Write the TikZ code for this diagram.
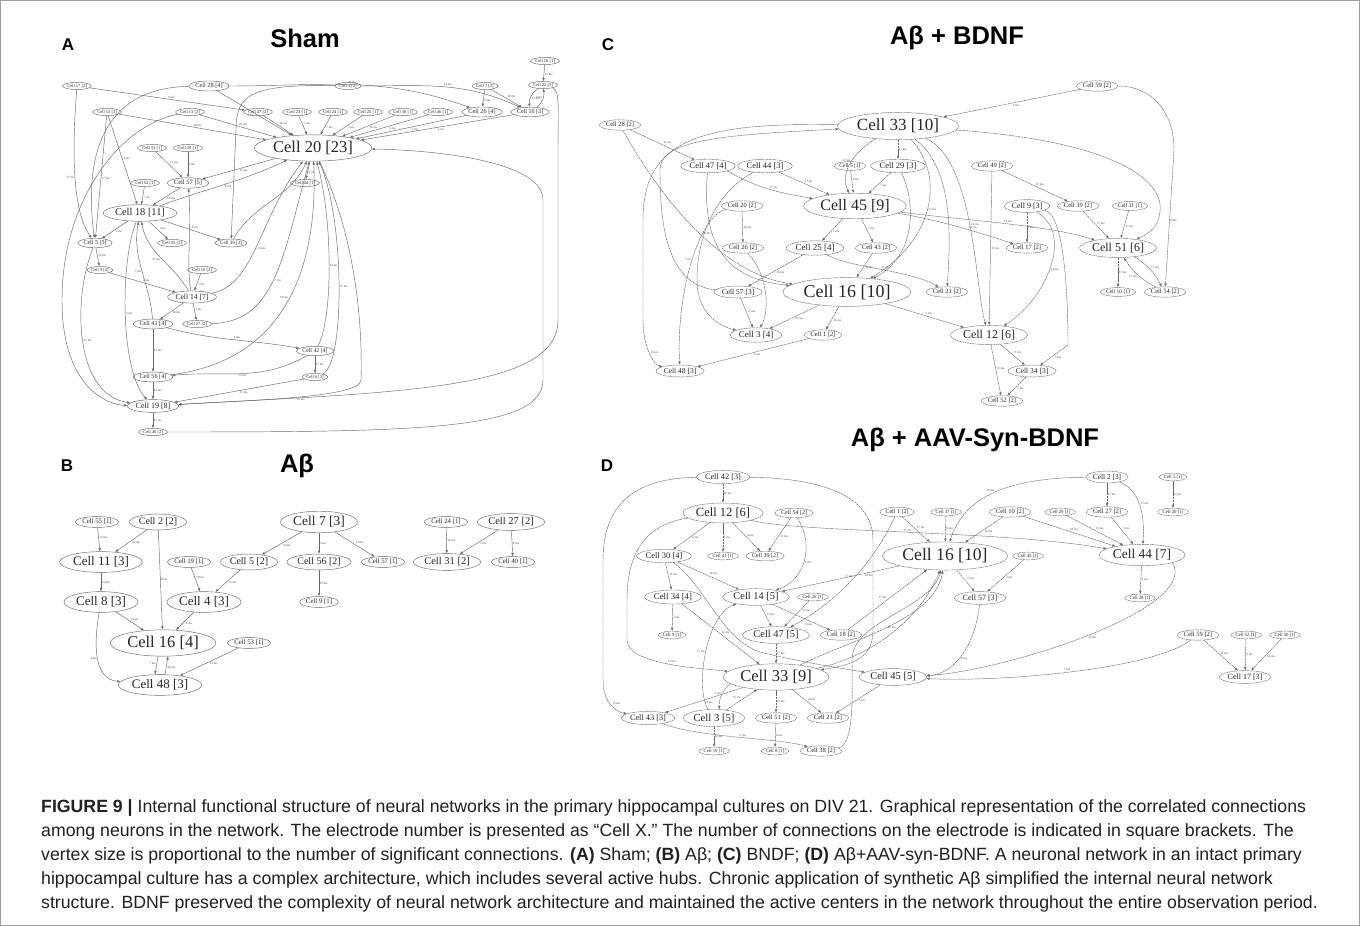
\documentclass[tikz,border=0pt]{standalone}
\usepackage{fontspec}
\setmainfont{Liberation Sans}
\newfontfamily\cellfont{Liberation Serif}
\usetikzlibrary{arrows.meta, shapes.geometric}
\definecolor{edgegray}{RGB}{105,105,105}
\definecolor{framegray}{RGB}{160,160,160}
\definecolor{captext}{RGB}{35,31,32}
\tikzset{
  cell/.style={ellipse, draw=edgegray, line width=.45pt, text=black!85,
    inner xsep={0.1*#1pt}, inner ysep={0.15*#1pt},
    font=\cellfont\fontsize{#1}{#1}\selectfont},
  cellx/.style={cell=#1, dash pattern=on 2pt off .6pt},
  link/.style={draw=edgegray, line width=.45pt, -{Latex[length=3.2pt,width=2.6pt]}},
  linkx/.style={link, dash pattern=on 2.5pt off .6pt},
  ms/.style={font=\cellfont\fontsize{3.2}{3.5}\selectfont, text=black!70, auto, inner sep=.6pt},
  panel/.style={font=\bfseries\fontsize{17}{17}\selectfont},
  heading/.style={font=\bfseries\fontsize{25.5}{26}\selectfont},
  capnode/.style={align=left, font=\fontsize{17.7}{24}\selectfont, text=captext, inner sep=0pt},
}

\begin{document}
\begin{tikzpicture}[x=1pt, y=1pt]
\useasboundingbox (0,0) rectangle (1360,-926);
% outer frame
\fill[white] (0,0) rectangle (1360,-926);
\draw[framegray] (0.5,-0.5) rectangle (1359.5,-925.5);

% ---- panel A: Sham ----
\node[panel] (lA) at (68,-45) {A};
\node[heading] (tA) at (305,-38) {Sham};
\node[cell=4.5] (a16) at (545,-61) {Cell 16 [1]};
\node[cell=4.5] (a22) at (543,-85) {Cell 22 [3]};
\node[cell=4.5] (a17) at (77,-86) {Cell 17 [2]};
\node[cell=6.3] (a28) at (209,-86) {Cell 28 [4]};
\node[cell=4.5] (a4) at (348,-86) {Cell 4 [2]};
\node[cell=4.5] (a7) at (485,-86) {Cell 7 [2]};
\node[cell=4.5] (a53) at (107,-112) {Cell 53 [3]};
\node[cell=4.5] (a13) at (190,-112) {Cell 13 [2]};
\node[cell=4.5] (a47) at (258,-112) {Cell 47 [2]};
\node[cell=4.5] (a23) at (297,-112) {Cell 23 [1]};
\node[cell=4.5] (a24) at (333,-112) {Cell 24 [1]};
\node[cell=4.5] (a25) at (368,-112) {Cell 25 [1]};
\node[cell=4.5] (a30) at (403,-112) {Cell 30 [1]};
\node[cell=4.5] (a46) at (438,-112) {Cell 46 [1]};
\node[cell=6.3] (a26) at (482,-112) {Cell 26 [4]};
\node[cell=6] (a10) at (530,-112) {Cell 10 [3]};
\node[cell=16.5] (a20) at (313,-148) {Cell 20 [23]};
\node[cell=4.5] (a31) at (152,-148) {Cell 31 [1]};
\node[cell=4.5] (a29) at (188,-148) {Cell 29 [1]};
\node[cell=6.5] (a57) at (188,-183) {Cell 57 [5]};
\node[cell=4.5] (a52) at (145,-183) {Cell 52 [1]};
\node[cell=4.5] (a44) at (305,-183) {Cell 44 [1]};
\node[cell=10.4] (a18) at (140,-213) {Cell 18 [11]};
\node[cell=6] (a5) at (95,-243) {Cell 5 [5]};
\node[cell=4.5] (a35) at (172,-243) {Cell 35 [2]};
\node[cell=5] (a39) at (231,-243) {Cell 39 [3]};
\node[cell=4.5] (a9) at (100,-270) {Cell 9 [2]};
\node[cell=4.5] (a16b) at (202,-270) {Cell 16 [2]};
\node[cell=7.6] (a14) at (192,-297) {Cell 14 [7]};
\node[cell=6.2] (a41) at (153,-324) {Cell 41 [4]};
\node[cell=4.5] (a27) at (197,-324) {Cell 27 [2]};
\node[cell=5.8] (a42) at (315,-351) {Cell 42 [4]};
\node[cell=6.2] (a56) at (153,-377) {Cell 56 [4]};
\node[cell=4.5] (a6) at (315,-377) {Cell 6 [3]};
\node[cell=8] (a19) at (153,-406) {Cell 19 [8]};
\node[cell=4.5] (a40) at (153,-432) {Cell 40 [2]};

\foreach \src/\dst/\lbl in {a16/a22/12, a7/a26/5, a7/a10/10, a17/a47/0,
    a53/a20/40, a13/a20/25, a47/a20/10, a23/a20/5, a24/a20/7, a25/a20/2, a30/a20/16,
    a46/a20/5, a26/a20/2, a10/a20/2, a31/a57/17, a29/a57/3, a57/a18/14, a52/a18/7,
    a20/a57/27, a20/a44/5, a53/a18/4, a53/a5/17, a18/a5/1, a18/a35/1, a18/a39/8,
    a16b/a14/1, a9/a14/0, a5/a9/20, a14/a41/10, a14/a27/7, a41/a56/13,
    a42/a6/27, a56/a19/23, a6/a19/35, a19/a40/17}
  \draw[link] (\src) -- node[ms]{\lbl~ms} (\dst);
\draw[link] (a28) -- node[ms,swap]{1~ms} (a20);
\draw[link] (a22) to[bend right=30] node[ms]{12~ms} (a10);
\draw[link] (a10) to[bend right=30] node[ms]{3~ms} (a22);
\draw[link] (a28) to[out=0,in=160] node[ms]{20~ms} (a26);
\draw[link] (a4) to[out=0,in=155] node[ms]{14~ms} (a10);
\draw[link] (a28) .. controls (100,-88) and (84,-160) .. (a5);
\draw[link] (a17) .. controls (72,-150) and (72,-210) .. node[ms,swap]{27~ms} (a5);
\draw[link] (a13) .. controls (120,-125) and (62,-200) .. (62,-300)
  .. controls (62,-390) and (110,-405) .. (a19);
\draw[link] (a5) .. controls (72,-300) and (75,-395) .. node[ms]{13~ms} (a19);
\draw[link] (a18) .. controls (120,-260) and (120,-370) .. node[ms]{5~ms} (a19);
\draw[link] (a18) to[out=20,in=205] node[ms,swap]{8~ms} (a20);
\draw[link] (a14) to[out=120,in=-80] node[ms]{27~ms} (a18);
\draw[link] (a41) to[out=95,in=-100] node[ms]{7~ms} (a18);
\draw[link] (a14) .. controls (186,-265) and (192,-230) .. (a57);
\draw[link] (a14) .. controls (255,-285) and (258,-220) .. node[ms,swap]{23~ms} (a20);
\draw[link] (a39) to[out=60,in=-115] (a20);
\draw[link] (a4) .. controls (250,-84) and (236,-95) .. (236,-130) -- (a39);
\draw[link] (a27) .. controls (275,-322) and (282,-260) .. node[ms,swap]{5~ms} (a20);
\draw[link] (a42) .. controls (333,-320) and (333,-220) .. node[ms,swap]{14~ms} (a20);
\draw[link] (a6) .. controls (345,-365) and (345,-220) .. node[ms,swap]{27~ms} (a20);
\draw[link] (a56) .. controls (290,-360) and (318,-260) .. node[ms]{10~ms} (a20);
\draw[link] (a42) to[out=-150,in=5] node[ms]{12~ms} (a56);
\draw[link] (a41) to[out=-15,in=170] node[ms]{3~ms} (a42);
\draw[link] (a20) .. controls (362,-250) and (362,-350) .. (361,-380)
  .. controls (360,-398) and (250,-400) .. node[ms]{35~ms} (a19);
\draw[link] (a40) .. controls (420,-432) and (543,-430) .. (543,-380) -- (543,-200)
  .. controls (543,-160) and (430,-150) .. (a20);
\draw[link] (a22) .. controls (560,-90) and (558,-110) .. (558,-150) -- (558,-320)
  .. controls (558,-390) and (400,-392) .. (a19);

% ---- panel B: Abeta ----
\node[panel] (lB) at (67,-466) {B};
\node[heading] (tB) at (297,-466) {Aβ};
\node[cell=6.8] (b55) at (97,-522) {Cell 55 [1]};
\node[cell=10] (b2) at (158,-522) {Cell 2 [2]};
\node[cell=13.5] (b7) at (319,-522) {Cell 7 [3]};
\node[cell=6.8] (b24) at (446,-522) {Cell 24 [1]};
\node[cell=10.5] (b27) at (511,-522) {Cell 27 [2]};
\node[cell=13] (b11) at (101,-562) {Cell 11 [3]};
\node[cell=6.8] (b19) at (189,-562) {Cell 19 [1]};
\node[cell=10] (b5) at (249,-562) {Cell 5 [2]};
\node[cell=10] (b56) at (319,-562) {Cell 56 [2]};
\node[cell=6.8] (b57) at (383,-562) {Cell 57 [1]};
\node[cell=10.5] (b31) at (447,-562) {Cell 31 [2]};
\node[cell=6.8] (b40) at (513,-562) {Cell 40 [1]};
\node[cell=13] (b8) at (101,-602) {Cell 8 [3]};
\node[cell=13] (b4) at (204,-602) {Cell 4 [3]};
\node[cell=6.8] (b9) at (319,-602) {Cell 9 [1]};
\node[cell=16.5] (b16) at (163,-643) {Cell 16 [4]};
\node[cell=6.8] (b53) at (249,-643) {Cell 53 [1]};
\node[cell=13] (b48) at (160,-685) {Cell 48 [3]};

\foreach \src/\dst/\lbl in {b55/b11/12, b2/b11/10, b2/b16/8, b11/b8/14, b19/b4/10,
    b5/b4/13, b8/b16/13, b4/b16/9, b53/b48/12, b7/b5/14, b7/b56/3, b7/b57/12,
    b56/b9/10, b24/b31/14, b27/b31/7, b27/b40/8}
  \draw[link] (\src) -- node[ms]{\lbl~ms} (\dst);
\draw[link] ([xshift=-5pt]b16.south) -- node[ms,swap]{7~ms} ([xshift=-5pt]b48.north);
\draw[link] ([xshift=5pt]b48.north) -- node[ms,swap]{10~ms} ([xshift=5pt]b16.south);
\draw[link] (b8) to[out=-100,in=175] node[ms,swap]{4~ms} (b48);

% ---- panel C: Abeta + BDNF ----
\node[panel] (lC) at (608,-45) {C};
\node[heading] (tC) at (957,-38) {Aβ + BDNF};
\node[cellx=6.5] (c59) at (1097,-86) {Cell 59 [2]};
\node[cellx=6.5] (c28) at (620,-125) {Cell 28 [2]};
\node[cellx=17] (c33) at (898,-126) {Cell 33 [10]};
\node[cellx=8.5] (c47) at (708,-166) {Cell 47 [4]};
\node[cellx=8.5] (c44) at (765,-166) {Cell 44 [3]};
\node[cellx=5.5] (c5) at (850,-166) {Cell 5 [1]};
\node[cellx=8.5] (c29) at (898,-166) {Cell 29 [3]};
\node[cellx=6.5] (c49) at (992,-166) {Cell 49 [2]};
\node[cellx=16] (c45) at (855,-206) {Cell 45 [9]};
\node[cellx=6.5] (c20) at (742,-206) {Cell 20 [2]};
\node[cellx=8] (c9) at (1027,-206) {Cell 9 [3]};
\node[cellx=6.5] (c39) at (1078,-206) {Cell 39 [2]};
\node[cellx=5.5] (c31) at (1130,-206) {Cell 31 [1]};
\node[cellx=6.5] (c26) at (743,-248) {Cell 26 [2]};
\node[cellx=9] (c25) at (815,-248) {Cell 25 [4]};
\node[cellx=6.5] (c43) at (876,-248) {Cell 43 [2]};
\node[cellx=6.5] (c17) at (1027,-248) {Cell 17 [2]};
\node[cellx=12] (c51) at (1118,-248) {Cell 51 [6]};
\node[cellx=7.5] (c57) at (738,-292) {Cell 57 [3]};
\node[cellx=18] (c16) at (847,-292) {Cell 16 [10]};
\node[cellx=6.5] (c21) at (947,-292) {Cell 21 [2]};
\node[cellx=5.5] (c10) at (1118,-292) {Cell 10 [1]};
\node[cellx=6.5] (c54) at (1165,-292) {Cell 54 [2]};
\node[cellx=9] (c3) at (756,-335) {Cell 3 [4]};
\node[cellx=6.5] (c1) at (823,-335) {Cell 1 [2]};
\node[cellx=12] (c12) at (989,-335) {Cell 12 [6]};
\node[cellx=7.5] (c48) at (680,-371) {Cell 48 [3]};
\node[cellx=7.5] (c34) at (1032,-371) {Cell 34 [3]};
\node[cellx=6.5] (c52) at (1002,-401) {Cell 52 [2]};

\foreach \src/\dst/\lbl in {c59/c33/2, c28/c47/13, c33/c29/27, c44/c45/17, c5/c45/6,
    c29/c45/7, c45/c25/1, c45/c43/7, c20/c26/10, c25/c57/10, c43/c16/11, c57/c3/17,
    c16/c3/25, c16/c1/10, c16/c12/3, c1/c48/9, c49/c39/27, c9/c17/7, c39/c51/17,
    c31/c51/17, c51/c10/17, c12/c34/17, c34/c52/7, c12/c52/15, c49/c12/15}
  \draw[linkx] (\src) -- node[ms]{\lbl~ms} (\dst);
\draw[linkx] (c59) .. controls (1150,-86) and (1174,-110) .. (1174,-150) -- node[ms]{8~ms} (c54);
\draw[linkx] (c33) .. controls (1100,-140) and (1165,-175) .. (1160,-212)
  .. controls (1158,-226) and (1152,-232) .. (c51);
\draw[linkx] (c33) to[out=-150,in=115] node[ms,swap]{17~ms} (c45);
\draw[linkx] (c33) .. controls (945,-175) and (935,-240) .. node[ms]{27~ms} (c16);
\draw[linkx] (c29) .. controls (915,-200) and (918,-255) .. (c16);
\draw[linkx] (c33) .. controls (975,-160) and (975,-290) .. node[ms]{14~ms} (c12);
\draw[linkx] (c33) .. controls (955,-170) and (950,-240) .. (c21);
\draw[linkx] (c33) .. controls (700,-122) and (643,-140) .. (643,-220) -- (643,-320)
  .. controls (643,-350) and (655,-365) .. node[ms]{15~ms} (c48);
\draw[linkx] (c57) .. controls (665,-285) and (660,-220) .. (660,-170)
  .. controls (660,-140) and (720,-135) .. (c33);
\draw[linkx] (c28) .. controls (670,-215) and (730,-275) .. node[ms]{10~ms} (c16);
\draw[linkx] (c47.south east) to[out=-30,in=170] node[ms]{17~ms} (c45);
\draw[linkx] (c44) .. controls (720,-190) and (697,-230) .. (697,-280)
  .. controls (697,-310) and (715,-325) .. (c3);
\draw[linkx] (c47) .. controls (700,-260) and (740,-280) .. (c16);
\draw[linkx] (c20) .. controls (700,-215) and (676,-290) .. node[ms,swap]{7~ms} (c48);
\draw[linkx] (c26) .. controls (768,-275) and (770,-310) .. (c3);
\draw[linkx] (c25) .. controls (850,-268) and (910,-270) .. node[ms]{11~ms} (c21);
\draw[linkx] (c45) .. controls (950,-222) and (995,-238) .. node[ms]{13~ms} (c17);
\draw[linkx] (c45) .. controls (960,-220) and (1050,-225) .. node[ms]{14~ms} (c51);
\draw[linkx] (c9) .. controls (1075,-235) and (1045,-300) .. node[ms]{24~ms} (c12);
\draw[linkx] (c9) .. controls (1065,-215) and (1068,-300) .. (1068,-345) -- node[ms]{7~ms} (c34);
\draw[linkx] (c51) to[bend left=15] node[ms]{17~ms} (c54);
\draw[linkx] (c54) to[bend left=15] node[ms]{17~ms} (c51);

% ---- panel D: Abeta + AAV-Syn-BDNF ----
\node[panel] (lD) at (607,-466) {D};
\node[heading] (tD) at (975,-440) {Aβ + AAV-Syn-BDNF};
\node[cellx=8.3] (d42) at (723,-477) {Cell 42 [3]};
\node[cellx=7.4] (d2) at (1107,-477) {Cell 2 [3]};
\node[cellx=4.8] (d5) at (1173,-477) {Cell 5 [1]};
\node[cellx=12.5] (d12) at (723,-513) {Cell 12 [6]};
\node[cellx=6] (d54) at (794,-513) {Cell 54 [2]};
\node[cellx=6] (d1) at (897,-512) {Cell 1 [2]};
\node[cellx=4.8] (d37) at (946,-512) {Cell 37 [1]};
\node[cellx=6.5] (d10) at (1010,-512) {Cell 10 [2]};
\node[cellx=4.8] (d29) at (1060,-512) {Cell 29 [1]};
\node[cellx=6.5] (d27) at (1107,-512) {Cell 27 [2]};
\node[cellx=4.8] (d20) at (1173,-512) {Cell 20 [1]};
\node[cellx=8.5] (d30) at (664,-556) {Cell 30 [4]};
\node[cellx=4.8] (d41) at (723,-556) {Cell 41 [1]};
\node[cellx=6] (d39) at (765,-556) {Cell 39 [2]};
\node[cellx=17.6] (d16) at (945,-556) {Cell 16 [10]};
\node[cellx=4.8] (d45b) at (1028,-556) {Cell 45 [1]};
\node[cellx=13.4] (d44) at (1142,-555) {Cell 44 [7]};
\node[cellx=8.8] (d34) at (673,-597) {Cell 34 [4]};
\node[cellx=10.4] (d14) at (756,-597) {Cell 14 [5]};
\node[cellx=4.8] (d26) at (813,-597) {Cell 26 [1]};
\node[cellx=8] (d57) at (980,-598) {Cell 57 [3]};
\node[cellx=4.8] (d28) at (1140,-598) {Cell 28 [1]};
\node[cellx=4.8] (d9) at (672,-635) {Cell 9 [1]};
\node[cellx=10.4] (d47) at (776,-635) {Cell 47 [5]};
\node[cellx=6.5] (d18) at (841,-635) {Cell 18 [2]};
\node[cellx=6.5] (d59) at (1198,-635) {Cell 59 [2]};
\node[cellx=4.8] (d52) at (1246,-635) {Cell 52 [1]};
\node[cellx=4.8] (d50) at (1285,-635) {Cell 50 [1]};
\node[cellx=16.5] (d33) at (776,-677) {Cell 33 [9]};
\node[cellx=10.5] (d45) at (893,-677) {Cell 45 [5]};
\node[cellx=8] (d17) at (1245,-677) {Cell 17 [3]};
\node[cellx=8.3] (d43) at (648,-718) {Cell 43 [3]};
\node[cellx=10.7] (d3) at (714,-718) {Cell 3 [5]};
\node[cellx=6.5] (d51) at (776,-718) {Cell 51 [2]};
\node[cellx=6.5] (d21) at (828,-718) {Cell 21 [2]};
\node[cellx=4.8] (d19) at (714,-751) {Cell 19 [1]};
\node[cellx=4.8] (d8) at (775,-751) {Cell 8 [1]};
\node[cellx=6.5] (d38) at (821,-751) {Cell 38 [2]};

\foreach \src/\dst/\lbl in {d42/d12/10, d12/d30/6, d12/d41/5, d12/d39/8, d54/d39/11,
    d30/d34/13, d30/d14/10, d34/d9/7, d34/d33/12, d14/d47/13,
    d37/d16/6, d1/d16/17, d10/d16/16, d10/d44/18, d29/d44/22, d27/d44/3, d2/d27/13,
    d5/d20/21, d16/d57/17, d45b/d57/3, d44/d28/2, d59/d17/8, d52/d17/9, d50/d17/14,
    d47/d33/17, d33/d43/12, d3/d33/15, d33/d51/13, d33/d21/14, d45/d21/5, d3/d19/10,
    d51/d8/8, d18/d16/17}
  \draw[linkx] (\src) -- node[ms]{\lbl~ms} (\dst);
\draw[linkx] (d16) -- node[ms,pos=.3]{18~ms} (d14);
\draw[linkx] (d14) -- node[ms,swap,pos=.7]{13~ms} (d18);
\draw[linkx] (d26) -- node[ms,pos=.3]{15~ms} (d47);
\draw[linkx] (d42) .. controls (640,-478) and (603,-500) .. (603,-560) -- (603,-680)
  .. controls (603,-705) and (618,-712) .. node[ms]{15~ms} (d43);
\draw[linkx] (d42) .. controls (820,-478) and (873,-495) .. (873,-540) -- (873,-630)
  .. controls (873,-660) and (850,-665) .. (d33);
\draw[linkx] (d12) .. controls (800,-533) and (1000,-530) .. node[ms]{17~ms} (d44);
\draw[linkx] (d12) .. controls (640,-525) and (627,-560) .. (627,-600) -- (627,-640)
  .. controls (627,-665) and (700,-668) .. node[ms]{11~ms} (d33);
\draw[linkx] (d54) .. controls (815,-545) and (805,-580) .. node[ms]{3~ms} (d14);
\draw[linkx] (d30) .. controls (705,-585) and (722,-640) .. (760,-652)
  .. controls (800,-662) and (840,-668) .. (d45);
\draw[linkx] (d1) .. controls (875,-560) and (840,-600) .. node[ms,swap]{17~ms} (d47);
\draw[linkx] (d2) .. controls (1010,-478) and (965,-495) .. node[ms,swap]{16~ms} (d16);
\draw[linkx] (d2) .. controls (1140,-490) and (1145,-515) .. node[ms]{13~ms} (d44);
\draw[linkx] (d44.south east) .. controls (1200,-610) and (1000,-672) .. node[ms]{33~ms} (d45);
\draw[linkx] (d57) .. controls (975,-650) and (950,-675) .. node[ms]{9~ms} (d45);
\draw[linkx] (d59) .. controls (1150,-670) and (1000,-682) .. node[ms,swap]{7~ms} (d45);
\draw[linkx] (d33) .. controls (880,-655) and (925,-610) .. node[ms]{10~ms} (d16);
\draw[linkx] (d33) .. controls (850,-640) and (935,-620) .. (d16);
\draw[linkx] (d38) .. controls (855,-745) and (852,-690) .. (852,-660)
  .. controls (852,-620) and (930,-610) .. (d16);
\draw[linkx] (d3) .. controls (695,-690) and (705,-615) .. node[ms]{17~ms} (d14);
\draw[linkx] (d33) to[bend right=25] node[ms,swap]{5~ms} (d3);
\draw[linkx] (d43) .. controls (700,-738) and (780,-738) .. node[ms]{5~ms} (d38);

% ---- caption ----
\node[capnode, anchor=north west] (cap) at (41,-799)
  {\textbf{FIGURE 9 |} Internal functional structure of neural networks in the primary hippocampal cultures on DIV 21. Graphical representation of the correlated connections\\
   among neurons in the network. The electrode number is presented as “Cell X.” The number of connections on the electrode is indicated in square brackets. The\\
   vertex size is proportional to the number of significant connections. \textbf{(A)} Sham; \textbf{(B)} Aβ; \textbf{(C)} BNDF; \textbf{(D)} Aβ+AAV-syn-BDNF. A neuronal network in an intact primary\\
   hippocampal culture has a complex architecture, which includes several active hubs. Chronic application of synthetic Aβ simplified the internal neural network\\
   structure. BDNF preserved the complexity of neural network architecture and maintained the active centers in the network throughout the entire observation period.};
\end{tikzpicture}
\end{document}
